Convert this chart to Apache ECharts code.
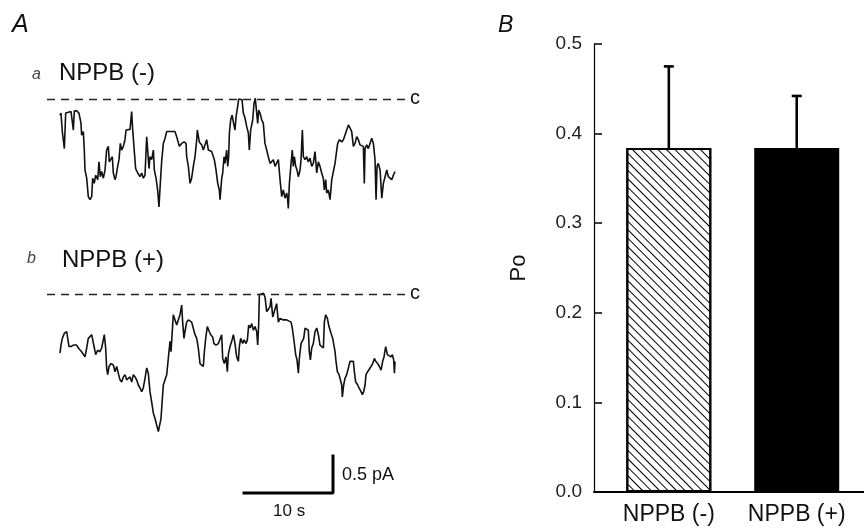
<!DOCTYPE html>
<html>
<head>
<meta charset="utf-8">
<script src="https://cdn.jsdelivr.net/npm/echarts@6/dist/echarts.min.js"></script>
<style>html,body{margin:0;padding:0;background:#fff}#chart{width:864px;height:529px}</style>
</head>
<body>
<div id="chart"></div>
<script>
// ---------- DATA ----------
// Panel A, trace a: NPPB (-)  time (s), current relative to closed level c (pA)
var traceATime = [0.00,0.11,0.26,0.37,0.49,0.64,0.94,1.24,1.39,1.50,1.61,1.87,2.13,2.36,2.43,2.62,2.73,2.81,3.00,3.18,3.37,3.56,3.67,3.85,4.01,4.24,4.38,4.53,4.68,4.87,5.06,5.24,5.43,5.54,5.73,5.88,5.99,6.18,6.29,6.48,6.63,6.78,6.93,7.12,7.30,7.42,7.60,7.87,8.05,8.17,8.35,8.50,8.73,8.99,9.18,9.36,9.55,9.74,9.85,10.00,10.11,10.30,10.49,10.60,10.79,10.97,11.12,11.27,11.42,11.61,11.80,11.99,12.17,12.55,12.92,13.11,13.41,13.67,13.93,14.16,14.23,14.42,14.61,14.79,14.98,15.17,15.36,15.43,15.65,15.92,16.10,16.29,16.48,16.67,16.85,17.04,17.23,17.34,17.53,17.72,17.90,17.98,18.17,18.28,18.43,18.54,18.73,18.84,18.95,19.03,19.18,19.33,19.48,19.66,19.78,19.96,20.08,20.30,20.45,20.60,20.79,20.97,21.16,21.27,21.42,21.65,21.80,21.94,22.10,22.21,22.32,22.47,22.66,22.84,23.03,23.22,23.40,23.60,23.79,23.97,24.16,24.35,24.53,24.72,24.91,25.09,25.28,25.47,25.58,25.65,25.77,25.96,26.10,26.21,26.33,26.48,26.63,26.78,26.97,27.08,27.23,27.34,27.53,27.72,27.90,28.09,28.28,28.46,28.65,28.84,29.02,29.21,29.40,29.58,29.70,29.85,29.96,30.15,30.34,30.53,30.71,30.90,31.09,31.20,31.38,31.65,31.84,32.02,32.21,32.40,32.58,32.77,32.96,33.15,33.33,33.52,33.71,33.90,34.08,34.19,34.27,34.46,34.64,34.83,35.02,35.21,35.39,35.51,35.62,35.76,35.96,36.15,36.33,36.52,36.71,36.89,37.08,37.27,37.45,37.64];
var traceACurrent = [-0.22,-0.19,-0.44,-0.46,-0.67,-0.19,-0.18,-0.17,-0.15,-0.42,-0.16,-0.16,-0.19,-0.33,-0.49,-0.44,-0.69,-0.96,-1.07,-1.32,-1.36,-1.32,-1.07,-1.14,-1.03,-1.09,-0.85,-1.05,-0.98,-1.07,-0.96,-0.69,-0.64,-0.85,-0.85,-0.78,-1.00,-1.09,-1.05,-0.91,-0.82,-0.60,-0.69,-0.64,-0.55,-0.42,-0.40,-0.41,-0.17,-0.42,-0.71,-0.94,-1.00,-1.05,-1.00,-1.07,-1.03,-0.51,-0.69,-0.94,-0.78,-0.82,-0.69,-0.96,-1.07,-1.23,-1.46,-1.14,-0.85,-0.60,-0.53,-0.44,-0.42,-0.44,-0.44,-0.51,-0.64,-0.60,-0.58,-0.60,-0.78,-0.91,-1.14,-1.07,-0.91,-0.78,-0.55,-0.42,-0.58,-0.62,-0.69,-0.67,-0.55,-0.69,-0.67,-0.71,-0.69,-0.82,-0.96,-1.14,-1.23,-1.36,-1.07,-1.00,-0.78,-0.87,-0.69,-0.91,-0.78,-0.46,-0.28,-0.22,-0.24,-0.42,-0.24,-0.10,0.00,0.01,-0.01,-0.19,-0.26,-0.37,-0.46,-0.69,-0.42,-0.28,-0.06,0.01,-0.01,-0.33,-0.15,-0.19,-0.28,-0.33,-0.60,-0.69,-0.78,-0.87,-0.85,-0.82,-0.91,-0.89,-0.82,-1.09,-1.32,-1.23,-1.34,-1.27,-1.36,-1.48,-1.14,-0.87,-0.69,-0.91,-0.78,-0.91,-0.96,-1.05,-0.96,-0.82,-0.42,-0.78,-0.82,-0.78,-0.85,-0.80,-0.91,-0.87,-0.71,-1.00,-0.85,-0.91,-1.00,-1.07,-1.23,-1.09,-1.27,-1.23,-1.36,-1.09,-1.07,-0.87,-0.69,-0.60,-0.55,-0.58,-0.55,-0.53,-0.42,-0.35,-0.39,-0.44,-0.64,-0.60,-0.51,-0.55,-0.62,-0.60,-0.64,-1.14,-0.67,-0.62,-0.67,-0.60,-0.53,-0.60,-0.82,-1.36,-0.91,-0.87,-0.96,-1.34,-1.14,-1.05,-0.96,-1.05,-1.07,-1.09,-1.03,-0.98];
// Panel A, trace b: NPPB (+)
var traceBTime = [0.00,0.11,0.26,0.49,0.75,0.86,1.01,1.24,1.50,1.69,1.87,2.06,2.25,2.43,2.62,2.81,3.00,3.18,3.37,3.56,3.75,3.86,4.01,4.23,4.49,4.68,4.98,5.13,5.24,5.36,5.51,5.73,5.99,6.18,6.37,6.55,6.74,6.93,7.12,7.30,7.49,7.68,7.87,8.05,8.24,8.43,8.61,8.80,8.99,9.18,9.36,9.55,9.74,9.92,10.11,10.30,10.49,10.67,10.86,11.05,11.24,11.35,11.50,11.61,11.80,11.99,12.17,12.36,12.47,12.73,12.92,13.11,13.30,13.48,13.67,13.78,13.93,14.04,14.23,14.42,14.61,14.79,14.98,15.17,15.36,15.54,15.73,15.92,16.10,16.22,16.37,16.55,16.78,16.93,17.15,17.30,17.53,17.79,17.98,18.16,18.28,18.46,18.65,18.80,18.91,19.10,19.29,19.48,19.66,19.85,20.04,20.15,20.30,20.52,20.67,20.90,21.05,21.20,21.35,21.54,21.72,21.91,22.10,22.21,22.32,22.40,22.58,22.85,23.03,23.22,23.41,23.60,23.71,23.90,24.04,24.19,24.34,24.53,24.72,24.91,25.09,25.28,25.47,25.65,25.96,26.10,26.33,26.48,26.63,26.78,26.89,27.08,27.23,27.38,27.53,27.75,27.90,28.01,28.13,28.28,28.46,28.65,28.84,29.03,29.21,29.40,29.59,29.70,29.85,30.04,30.22,30.45,30.64,30.79,30.90,31.01,31.16,31.35,31.46,31.65,31.72,31.87,32.02,32.21,32.40,32.58,32.77,32.96,33.07,33.22,33.45,33.60,33.82,33.97,34.12,34.27,34.38,34.57,34.72,34.94,35.13,35.32,35.47,35.69,35.88,36.07,36.25,36.40,36.59,36.78,36.97,37.19,37.34,37.49,37.57,37.64];
var traceBCurrent = [-0.80,-0.69,-0.60,-0.53,-0.51,-0.49,-0.71,-0.71,-0.69,-0.67,-0.69,-0.73,-0.71,-0.78,-0.80,-0.85,-0.73,-0.60,-0.58,-0.55,-0.55,-0.73,-0.82,-0.76,-0.78,-0.73,-0.55,-0.73,-1.00,-1.09,-0.98,-0.94,-0.96,-1.05,-0.98,-1.07,-1.16,-1.19,-1.12,-1.09,-1.16,-1.14,-1.12,-1.19,-1.09,-1.12,-1.16,-1.23,-1.27,-1.32,-1.27,-1.14,-1.00,-1.07,-1.32,-1.46,-1.61,-1.68,-1.77,-1.86,-1.88,-1.68,-1.41,-1.23,-1.16,-1.09,-0.87,-0.64,-0.78,-0.28,-0.26,-0.42,-0.40,-0.28,-0.15,-0.38,-0.60,-0.51,-0.38,-0.35,-0.35,-0.38,-0.40,-0.55,-0.60,-0.73,-0.94,-0.96,-0.98,-0.78,-0.60,-0.44,-0.51,-0.55,-0.58,-0.67,-0.69,-0.67,-0.69,-0.55,-0.87,-0.94,-0.85,-1.05,-0.82,-0.71,-0.64,-0.55,-0.67,-0.85,-0.91,-0.71,-0.60,-0.67,-0.62,-0.67,-0.62,-0.42,-0.46,-0.40,-0.49,-0.44,-0.51,-0.69,-0.42,-0.01,0.00,0.01,-0.04,-0.24,-0.22,-0.17,-0.06,-0.31,-0.33,-0.19,-0.13,-0.38,-0.33,-0.33,-0.35,-0.35,-0.35,-0.33,-0.38,-0.46,-0.67,-0.82,-0.89,-1.07,-0.87,-0.67,-0.69,-0.60,-0.46,-0.44,-0.49,-0.78,-0.89,-0.73,-0.67,-0.51,-0.46,-0.55,-0.69,-0.71,-0.73,-0.38,-0.28,-0.33,-0.44,-0.53,-0.60,-0.62,-0.78,-0.91,-1.05,-1.09,-1.14,-1.23,-1.39,-1.23,-1.14,-1.09,-1.07,-0.91,-0.89,-0.91,-1.05,-1.19,-1.23,-1.27,-1.32,-1.36,-1.32,-1.23,-1.09,-1.05,-1.03,-0.98,-0.94,-0.87,-0.91,-0.94,-0.98,-1.03,-0.91,-0.85,-0.71,-0.82,-0.80,-0.85,-0.82,-0.89,-1.07,-0.91];
// Scale bar
var scaleBarTime = 10;      // s
var scaleBarCurrent = 0.5;  // pA
// Panel B
var categories = ['NPPB (-)', 'NPPB (+)'];
var poMean = [0.384, 0.384];
var poSem = [0.091, 0.058];
var yTicks = [0, 0.1, 0.2, 0.3, 0.4, 0.5];

// ---------- BUILD ----------
function zip(t, v) { return t.map(function (x, i) { return [x, v[i]]; }); }
var FONT = 'Liberation Sans';
var chart = echarts.init(document.getElementById('chart'), null, { renderer: 'canvas' });

var barData = categories.map(function (c, i) {
  var item = { value: [i + 1, poMean[i]] };
  if (i === 0) {
    item.itemStyle = {
      color: '#ffffff', borderColor: '#000', borderWidth: 2,
      decal: { symbol: 'rect', symbolSize: 1, dashArrayX: [1, 0], dashArrayY: [1, 5], rotation: Math.PI / 4, color: '#000' }
    };
  } else {
    item.itemStyle = { color: '#000', borderColor: '#000', borderWidth: 0 };
  }
  return item;
});
var errData = categories.map(function (c, i) { return [i + 1, poMean[i], poMean[i] + poSem[i]]; });

var dashedC = {
  silent: true, symbol: 'none', label: { show: false },
  lineStyle: { color: '#222', type: [8, 6], width: 1.3 },
  data: [{ yAxis: 0 }]
};

var option = {
  animation: false,
  textStyle: { fontFamily: FONT, color: '#111' },
  grid: [
    { left: 47, top: 91.6, width: 358, height: 125.8 },
    { left: 47, top: 286.6, width: 358, height: 155.4 },
    { left: 244, top: 456, width: 89, height: 37 },
    { left: 594, top: 44, right: 0, height: 448 }
  ],
  xAxis: [
    { gridIndex: 0, type: 'value', min: -1.46, max: 38.76, show: false },
    { gridIndex: 1, type: 'value', min: -1.46, max: 38.76, show: false },
    { gridIndex: 2, type: 'value', min: 0, max: scaleBarTime, show: false },
    { gridIndex: 3, type: 'value', min: 0.415, max: 2.526,
      axisLine: { show: true, lineStyle: { color: '#000', width: 2 } },
      axisTick: { show: false }, splitLine: { show: false },
      axisLabel: { customValues: [1, 2], margin: 11, fontSize: 23, color: '#111', fontFamily: FONT,
        formatter: function (v) { return categories[Math.round(v) - 1] || ''; } } }
  ],
  yAxis: [
    { gridIndex: 0, type: 'value', min: -1.6, max: 0.1, show: false },
    { gridIndex: 1, type: 'value', min: -2.0, max: 0.1, show: false },
    { gridIndex: 2, type: 'value', min: 0, max: scaleBarCurrent, show: false },
    { gridIndex: 3, type: 'value', min: 0, max: 0.5, interval: 0.1,
      name: 'Po', nameLocation: 'middle', nameGap: 64, nameRotate: 90,
      nameTextStyle: { fontSize: 22, color: '#111', fontFamily: FONT },
      axisLine: { show: true, lineStyle: { color: '#000', width: 1.2 } },
      axisTick: { show: true, inside: true, length: 8, lineStyle: { color: '#000', width: 1.5 } },
      splitLine: { show: false },
      axisLabel: { margin: 12, fontSize: 19, color: '#222', fontFamily: FONT,
        formatter: function (v) { return v.toFixed(1); } } }
  ],
  series: [
    { type: 'line', xAxisIndex: 0, yAxisIndex: 0, data: zip(traceATime, traceACurrent),
      showSymbol: false, lineStyle: { color: '#111', width: 1.6 }, markLine: dashedC, clip: false },
    { type: 'line', xAxisIndex: 1, yAxisIndex: 1, data: zip(traceBTime, traceBCurrent),
      showSymbol: false, lineStyle: { color: '#111', width: 1.6 }, markLine: dashedC, clip: false },
    { type: 'line', xAxisIndex: 2, yAxisIndex: 2,
      data: [[0, 0], [scaleBarTime, 0], [scaleBarTime, scaleBarCurrent]],
      showSymbol: false, lineStyle: { color: '#000', width: 3, cap: 'square' }, clip: false },
    { type: 'bar', xAxisIndex: 3, yAxisIndex: 3, barWidth: 85, data: barData },
    { type: 'custom', xAxisIndex: 3, yAxisIndex: 3, data: errData, z: 5,
      renderItem: function (params, api) {
        var p0 = api.coord([api.value(0), api.value(1)]);
        var p1 = api.coord([api.value(0), api.value(2)]);
        var hw = 5;
        return { type: 'group', children: [
          { type: 'line', shape: { x1: p0[0], y1: p0[1], x2: p1[0], y2: p1[1] }, style: { stroke: '#000', lineWidth: 2.6 } },
          { type: 'line', shape: { x1: p1[0] - hw, y1: p1[1], x2: p1[0] + hw, y2: p1[1] }, style: { stroke: '#000', lineWidth: 2.6 } }
        ] };
      } }
  ],
  graphic: [
    { type: 'text', left: 12, top: 13, style: { text: 'A', font: 'italic 25px "Liberation Sans"', fill: '#111' } },
    { type: 'text', left: 498, top: 14, style: { text: 'B', font: 'italic 23px "Liberation Sans"', fill: '#111' } },
    { type: 'text', left: 32, top: 67, style: { text: 'a', font: 'italic 16px "Liberation Sans"', fill: '#444' } },
    { type: 'text', left: 59, top: 61, style: { text: 'NPPB (-)', font: '24px "Liberation Sans"', fill: '#111' } },
    { type: 'text', left: 410, top: 88, style: { text: 'c', font: '20px "Liberation Sans"', fill: '#111' } },
    { type: 'text', left: 27, top: 251, style: { text: 'b', font: 'italic 16px "Liberation Sans"', fill: '#444' } },
    { type: 'text', left: 62, top: 248, style: { text: 'NPPB (+)', font: '24px "Liberation Sans"', fill: '#111' } },
    { type: 'text', left: 410, top: 283, style: { text: 'c', font: '20px "Liberation Sans"', fill: '#111' } },
    { type: 'text', left: 342, top: 466, style: { text: '0.5 pA', font: '18px "Liberation Sans"', fill: '#111' } },
    { type: 'text', left: 273, top: 503, style: { text: '10 s', font: '17px "Liberation Sans"', fill: '#111' } }
  ]
};
chart.setOption(option);
</script>
</body>
</html>
